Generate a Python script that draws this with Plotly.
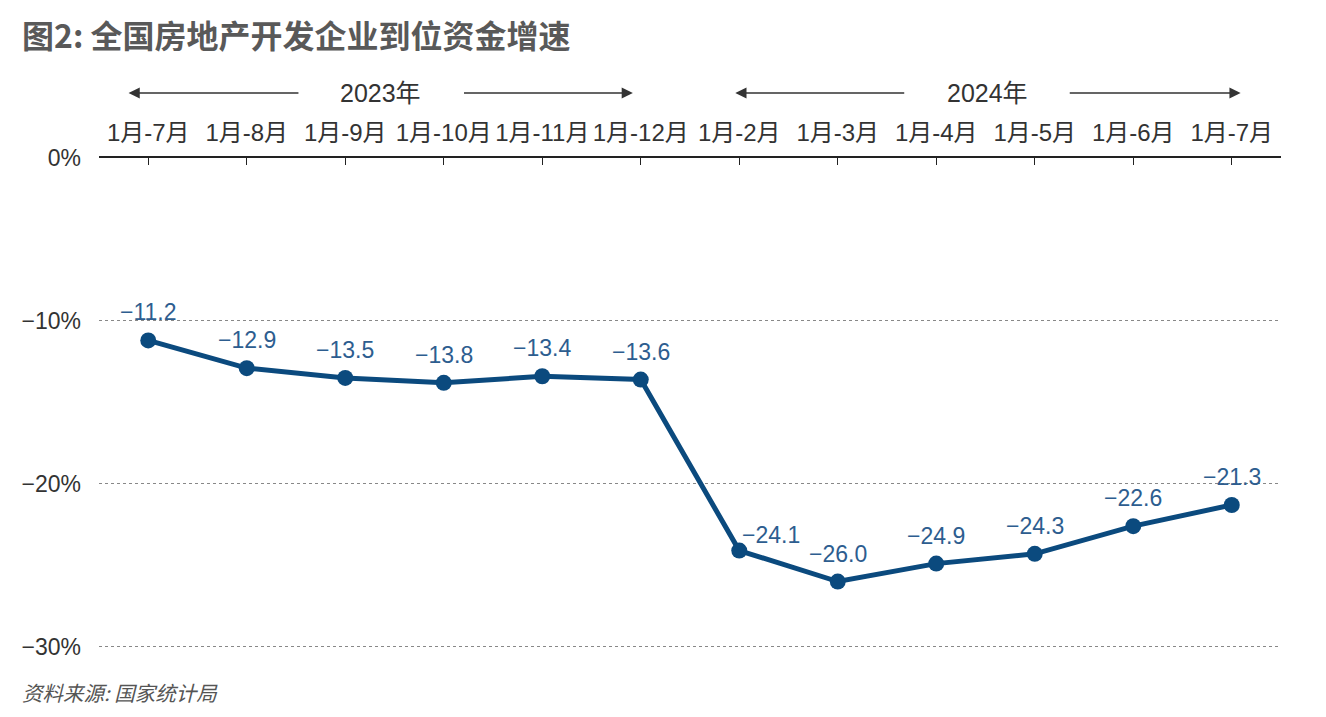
import plotly.graph_objects as go

categories = ["1月-7月", "1月-8月", "1月-9月", "1月-10月", "1月-11月", "1月-12月",
              "1月-2月", "1月-3月", "1月-4月", "1月-5月", "1月-6月", "1月-7月"]
values = [-11.2, -12.9, -13.5, -13.8, -13.4, -13.6, -24.1, -26.0, -24.9, -24.3, -22.6, -21.3]
y_ticks = [0, -10, -20, -30]
years = ["2023年", "2024年"]
title_text = "图2: 全国房地产开发企业到位资金增速"
source_text = "资料来源: 国家统计局"

labels = [f"{v:.1f}".replace("-", "−") for v in values]
y_ticktext = [f"{t}%".replace("-", "−") for t in y_ticks]

FONT = "Liberation Sans, Arial, Noto Sans CJK SC, sans-serif"
CJK = "Noto Sans CJK SC, sans-serif"
LINE = "#0b4a7e"

# page body has an 8px margin; figure sized so the page is 1326x717
W, H = 1318, 709
L, T, PW, PH = 91, 150, 1182, 490

fig = go.Figure()
fig.add_trace(go.Scatter(
    x=list(range(len(values))), y=values,
    mode="lines+markers",
    line=dict(color=LINE, width=5),
    marker=dict(color=LINE, size=16),
    cliponaxis=False, showlegend=False, hoverinfo="skip",
))

for i, (v, lab) in enumerate(zip(values, labels)):
    xs, ys = (32, 16) if i == 6 else (0, 28)
    fig.add_annotation(x=i, y=v, xref="x", yref="y", text=lab, showarrow=False,
                       xshift=xs, yshift=ys,
                       font=dict(family=FONT, size=23, color="#2d5d8f"))

fig.update_layout(
    width=W, height=H,
    margin=dict(l=L, r=W - L - PW, t=T, b=H - T - PH, autoexpand=False),
    paper_bgcolor="white", plot_bgcolor="white",
    xaxis=dict(
        side="top", range=[-0.5, len(values) - 0.5],
        tickmode="array", tickvals=list(range(len(values))), ticktext=categories,
        showline=True, linecolor="#222", linewidth=1.5,
        ticks="inside", ticklen=7, tickcolor="#222", tickwidth=1,
        showgrid=False, zeroline=False, ticklabelstandoff=6,
        tickfont=dict(family=FONT, size=24, color="#333"),
    ),
    yaxis=dict(
        range=[-30.08, 0], tickmode="array", tickvals=y_ticks, ticktext=y_ticktext,
        showgrid=True, gridcolor="#888", griddash="dot", gridwidth=1,
        zeroline=False, showline=False, ticks="",
        ticklabelstandoff=17,
        tickfont=dict(family=FONT, size=23, color="#333"),
    ),
)

# title as an annotation anchored at its top edge, inside the figure
fig.add_annotation(x=(12 - L) / PW, y=1 + (T - 1) / PH, xref="paper", yref="paper",
                   text=f"<b>{title_text}</b>", showarrow=False,
                   xanchor="left", yanchor="top",
                   font=dict(family=CJK, size=32, color="#595959"))

# year annotations with arrows (data units on the category axis)
year_spans = [(-0.2, 1.54, 3.19, 4.92), (5.96, 7.69, 9.34, 11.09)]
yy = 1 + 65 / PH
for yr, (a0, a1, b0, b1) in zip(years, year_spans):
    fig.add_annotation(x=(a0 + b1) / 2, y=yy, xref="x", yref="paper",
                       text=yr, showarrow=False, yanchor="middle",
                       font=dict(family=FONT, size=25, color="#333"))
    fig.add_annotation(x=a0, y=yy, ax=a1, ay=0, xref="x", yref="paper",
                       axref="x", ayref="pixel", text="", showarrow=True,
                       arrowhead=2, arrowsize=1.4, arrowwidth=1.6, arrowcolor="#333", standoff=0)
    fig.add_annotation(x=b1, y=yy, ax=b0, ay=0, xref="x", yref="paper",
                       axref="x", ayref="pixel", text="", showarrow=True,
                       arrowhead=2, arrowsize=1.4, arrowwidth=1.6, arrowcolor="#333", standoff=0)

fig.add_annotation(x=(12 - L) / PW, y=(T + PH - 684) / PH, xref="paper", yref="paper",
                   text=source_text, showarrow=False, xanchor="left", yanchor="middle",
                   font=dict(family=CJK, size=20.5, color="#555", style="italic"))

fig.write_html("out.html")
